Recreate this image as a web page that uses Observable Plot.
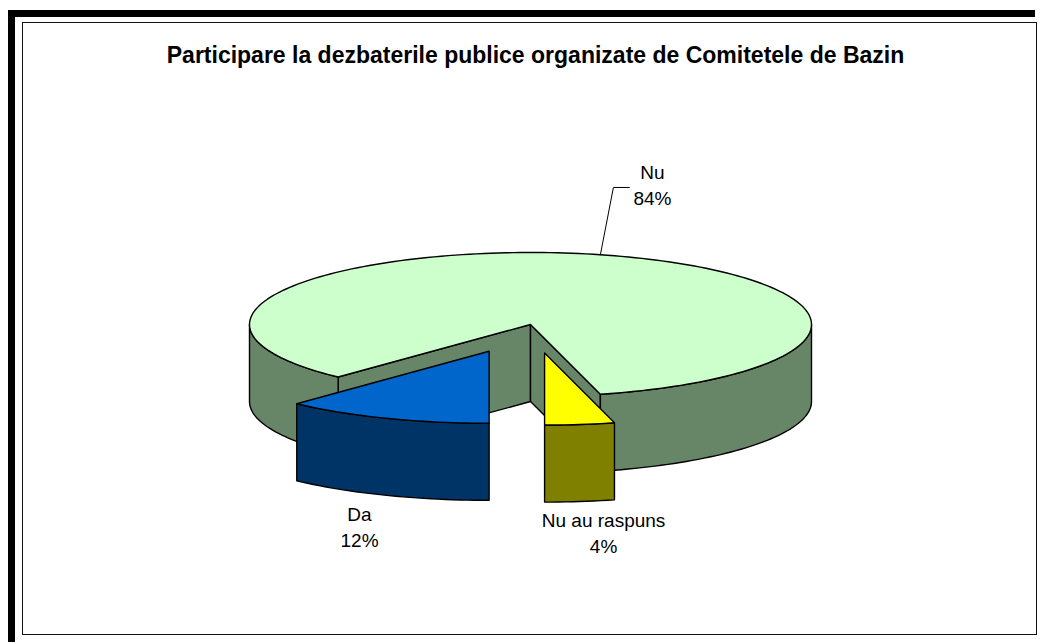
<!DOCTYPE html>
<html>
<head>
<meta charset="utf-8">
<script src="https://cdn.jsdelivr.net/npm/d3@7"></script>
<script src="https://cdn.jsdelivr.net/npm/@observablehq/plot@0.6"></script>
<style>
  html, body { margin: 0; padding: 0; background: #fff; }
  #wrap { position: relative; width: 1040px; height: 642px; overflow: hidden;
          font-family: "Liberation Sans", Arial, sans-serif; }
  #wrap svg { position: absolute; left: 0; top: 0; }
  .bar { position: absolute; background: #000; }
  #inner { position: absolute; left: 22px; top: 22px; width: 1015px; height: 613px;
           box-sizing: border-box; border: 1.5px solid #111; }
  #title { position: absolute; left: 0; top: 44px; width: 1071px; text-align: center;
           font-weight: bold; font-size: 23px; line-height: 23px; color: #000; white-space: nowrap; }
</style>
</head>
<body>
<div id="wrap">
  <div class="bar" style="left:8px;top:10px;width:1027px;height:7px"></div>
  <div class="bar" style="left:8px;top:10px;width:7px;height:632px"></div>
  <div id="inner"></div>
  <div id="title"></div>
</div>
<script>
// ---- data ----
const title = "Participare la dezbaterile publice organizate de Comitetele de Bazin";
const categories = ["Da", "Nu", "Nu au raspuns"];
const values = [12, 84, 4];
const explodedSlices = [true, false, true];

// ---- styles ----
const topColors = ["#0066CC", "#CCFFCC", "#FFFF00"];
const sideColors = ["#003366", "#678567", "#808000"];

// ---- layout (unit coordinates of the pie: x in horizontal radii, y in vertical radii) ----
const startAngle = 90;       // degrees, clockwise from 3 o'clock (screen)
const depth = 1.07;          // pie thickness in vertical radii
const explode = 0.4;         // offset of exploded slices in radii
const labelAnchor = [[-0.6085, 2.736], [0.434, -2.014], [0.26, 2.815]];
const leaderPath = [null, [[0.295, -1.903], [0.352, -1.903]], null];

document.getElementById("title").textContent = title;

const deg = Math.PI / 180;
const total = d3.sum(values);
let cum = 0;
const slices = categories.map((c, i) => {
  const a0 = startAngle + 360 * cum / total;
  cum += values[i];
  const a1 = startAngle + 360 * cum / total;
  const mid = (a0 + a1) / 2;
  const off = explodedSlices[i] ? explode : 0;
  return {i, c, a0, a1, mid, cx: off * Math.cos(mid * deg), cy: off * Math.sin(mid * deg)};
});

function rim(s, a, dz = 0) {
  return {x: s.cx + Math.cos(a * deg), y: s.cy + Math.sin(a * deg) + dz};
}
function arc(s, a, b, dz = 0) {
  const n = Math.max(2, Math.ceil(Math.abs(b - a) / 1.5));
  return d3.range(n + 1).map(k => rim(s, a + (b - a) * k / n, dz));
}

const marks = [];
function face(pts, fill) {
  const closed = [...pts, pts[0]];
  marks.push(Plot.line(closed, {x: "x", y: "y", fill, stroke: "#000", strokeWidth: 1.4,
    strokeLinejoin: "round", curve: "linear"}));
}

const order = [...slices].sort((p, q) => Math.sin(p.mid * deg) - Math.sin(q.mid * deg));
for (const s of order) {
  const c0 = {x: s.cx, y: s.cy}, c0b = {x: s.cx, y: s.cy + depth};
  // cut faces
  if (Math.sin((s.a0 - 90) * deg) > 1e-6) {
    face([c0, rim(s, s.a0), rim(s, s.a0, depth), c0b], sideColors[s.i]);
  }
  if (Math.sin((s.a1 + 90) * deg) > 1e-6) {
    face([c0, rim(s, s.a1), rim(s, s.a1, depth), c0b], sideColors[s.i]);
  }
  // outer walls (front half only)
  for (let k = Math.floor(s.a0 / 360) - 1; k <= Math.ceil(s.a1 / 360); k++) {
    const lo = Math.max(s.a0, 360 * k), hi = Math.min(s.a1, 360 * k + 180);
    if (hi > lo) face([...arc(s, lo, hi), ...arc(s, hi, lo, depth)], sideColors[s.i]);
  }
  // top
  face([c0, ...arc(s, s.a0, s.a1)], topColors[s.i]);
}

// leader lines
slices.forEach(s => {
  const lp = leaderPath[s.i];
  if (!lp) return;
  const pts = [rim(s, s.mid), ...lp.map(([x, y]) => ({x, y}))];
  marks.push(Plot.line(pts, {x: "x", y: "y", stroke: "#000", strokeWidth: 1}));
});

// labels
const labels = slices.map(s => ({
  x: labelAnchor[s.i][0], y: labelAnchor[s.i][1],
  name: s.c, pct: `${Math.round(100 * values[s.i] / total)}%`
}));
marks.push(Plot.text(labels, {x: "x", y: "y", text: "name", lineAnchor: "bottom",
  fontSize: 19, fill: "#000", textAnchor: "middle"}));
marks.push(Plot.text(labels, {x: "x", y: "y", text: "pct", lineAnchor: "bottom", dy: 25.5,
  fontSize: 19, fill: "#000", textAnchor: "middle"}));

const chart = Plot.plot({
  width: 1040,
  height: 642,
  margin: 0,
  x: {domain: [-1, 1], range: [249, 811], axis: null},
  y: {domain: [-1, 1], range: [252, 396], axis: null},
  style: {background: "transparent", fontFamily: "Liberation Sans, Arial, sans-serif", overflow: "visible"},
  marks
});
document.getElementById("wrap").insertBefore(chart, document.getElementById("title"));
</script>
</body>
</html>
